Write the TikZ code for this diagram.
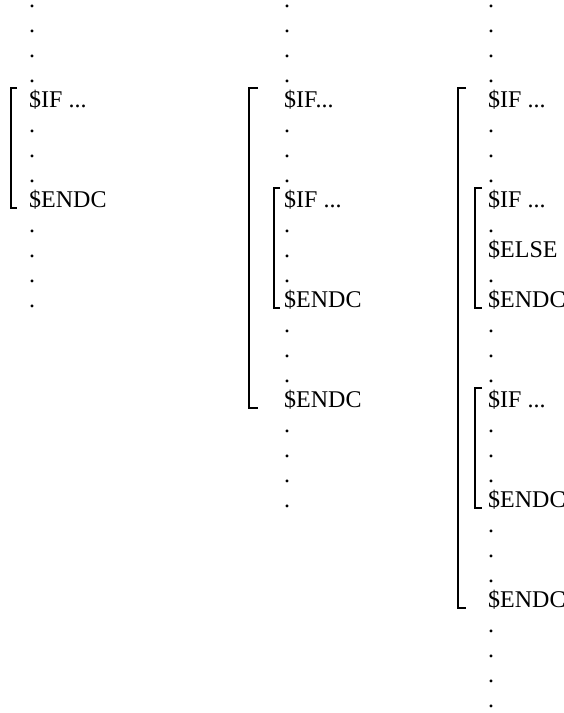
\documentclass[tikz,border=0pt]{standalone}
\usepackage{fontspec}
\setmainfont{Liberation Serif}

\begin{document}
\begin{tikzpicture}[x=1pt,y=-1pt]
	\tikzset{code/.style={inner sep=0pt,anchor=base west,text height=19pt,text depth=1pt,font=\fontsize{24}{25}\selectfont},
		dotln/.style={code,text height=4pt}}
	\tikzstyle{brkt}=[line width=1.6pt]
	\useasboundingbox (0,0) rectangle (563,713);

	%% one $IF block
	\foreach \r in {0,1,2,3,5,6,7,9,10,11,12}
		\node[dotln] (a\r) at (29,{7+25*\r}) {.};
	\node[code] (a4) at (29,107) {\$IF ...};
	\node[code] (a8) at (29,207) {\$ENDC};
	\draw[brkt] ([xshift=-12pt]a4.north west) -| ([xshift=-18pt]a8.south west) -- ([xshift=-12pt]a8.south west);

	%% $IF inside $IF
	\foreach \r in {0,1,2,3,5,6,7,9,10,11,13,14,15,17,18,19,20}
		\node[dotln] (b\r) at (284,{7+25*\r}) {.};
	\node[code] (b4) at (284,107) {\$IF...};
	\node[code] (b8) at (284,207) {\$IF ...};
	\node[code] (b12) at (284,307) {\$ENDC};
	\node[code] (b16) at (284,407) {\$ENDC};
	\draw[brkt] ([xshift=-26pt]b4.north west) -| ([xshift=-35pt]b16.south west) -- ([xshift=-26pt]b16.south west);
	\draw[brkt] ([xshift=-4pt]b8.north west) -| ([xshift=-10pt]b12.south west) -- ([xshift=-4pt]b12.south west);

	%% two blocks inside, the first with $ELSE
	\foreach \r in {0,1,2,3,5,6,7,9,11,13,14,15,17,18,19,21,22,23,25,26,27,28}
		\node[dotln] (c\r) at (488,{7+25*\r}) {.};
	\node[code] (c4) at (488,107) {\$IF ...};
	\node[code] (c8) at (488,207) {\$IF ...};
	\node[code] (c10) at (488,257) {\$ELSE};
	\node[code] (c12) at (488,307) {\$ENDC};
	\node[code] (c16) at (488,407) {\$IF ...};
	\node[code] (c20) at (488,507) {\$ENDC};
	\node[code] (c24) at (488,607) {\$ENDC};
	\draw[brkt] ([xshift=-22pt]c4.north west) -| ([xshift=-30pt]c24.south west) -- ([xshift=-22pt]c24.south west);
	\draw[brkt] ([xshift=-6pt]c8.north west) -| ([xshift=-13pt]c12.south west) -- ([xshift=-6pt]c12.south west);
	\draw[brkt] ([xshift=-6pt]c16.north west) -| ([xshift=-13pt]c20.south west) -- ([xshift=-6pt]c20.south west);
\end{tikzpicture}
\end{document}
